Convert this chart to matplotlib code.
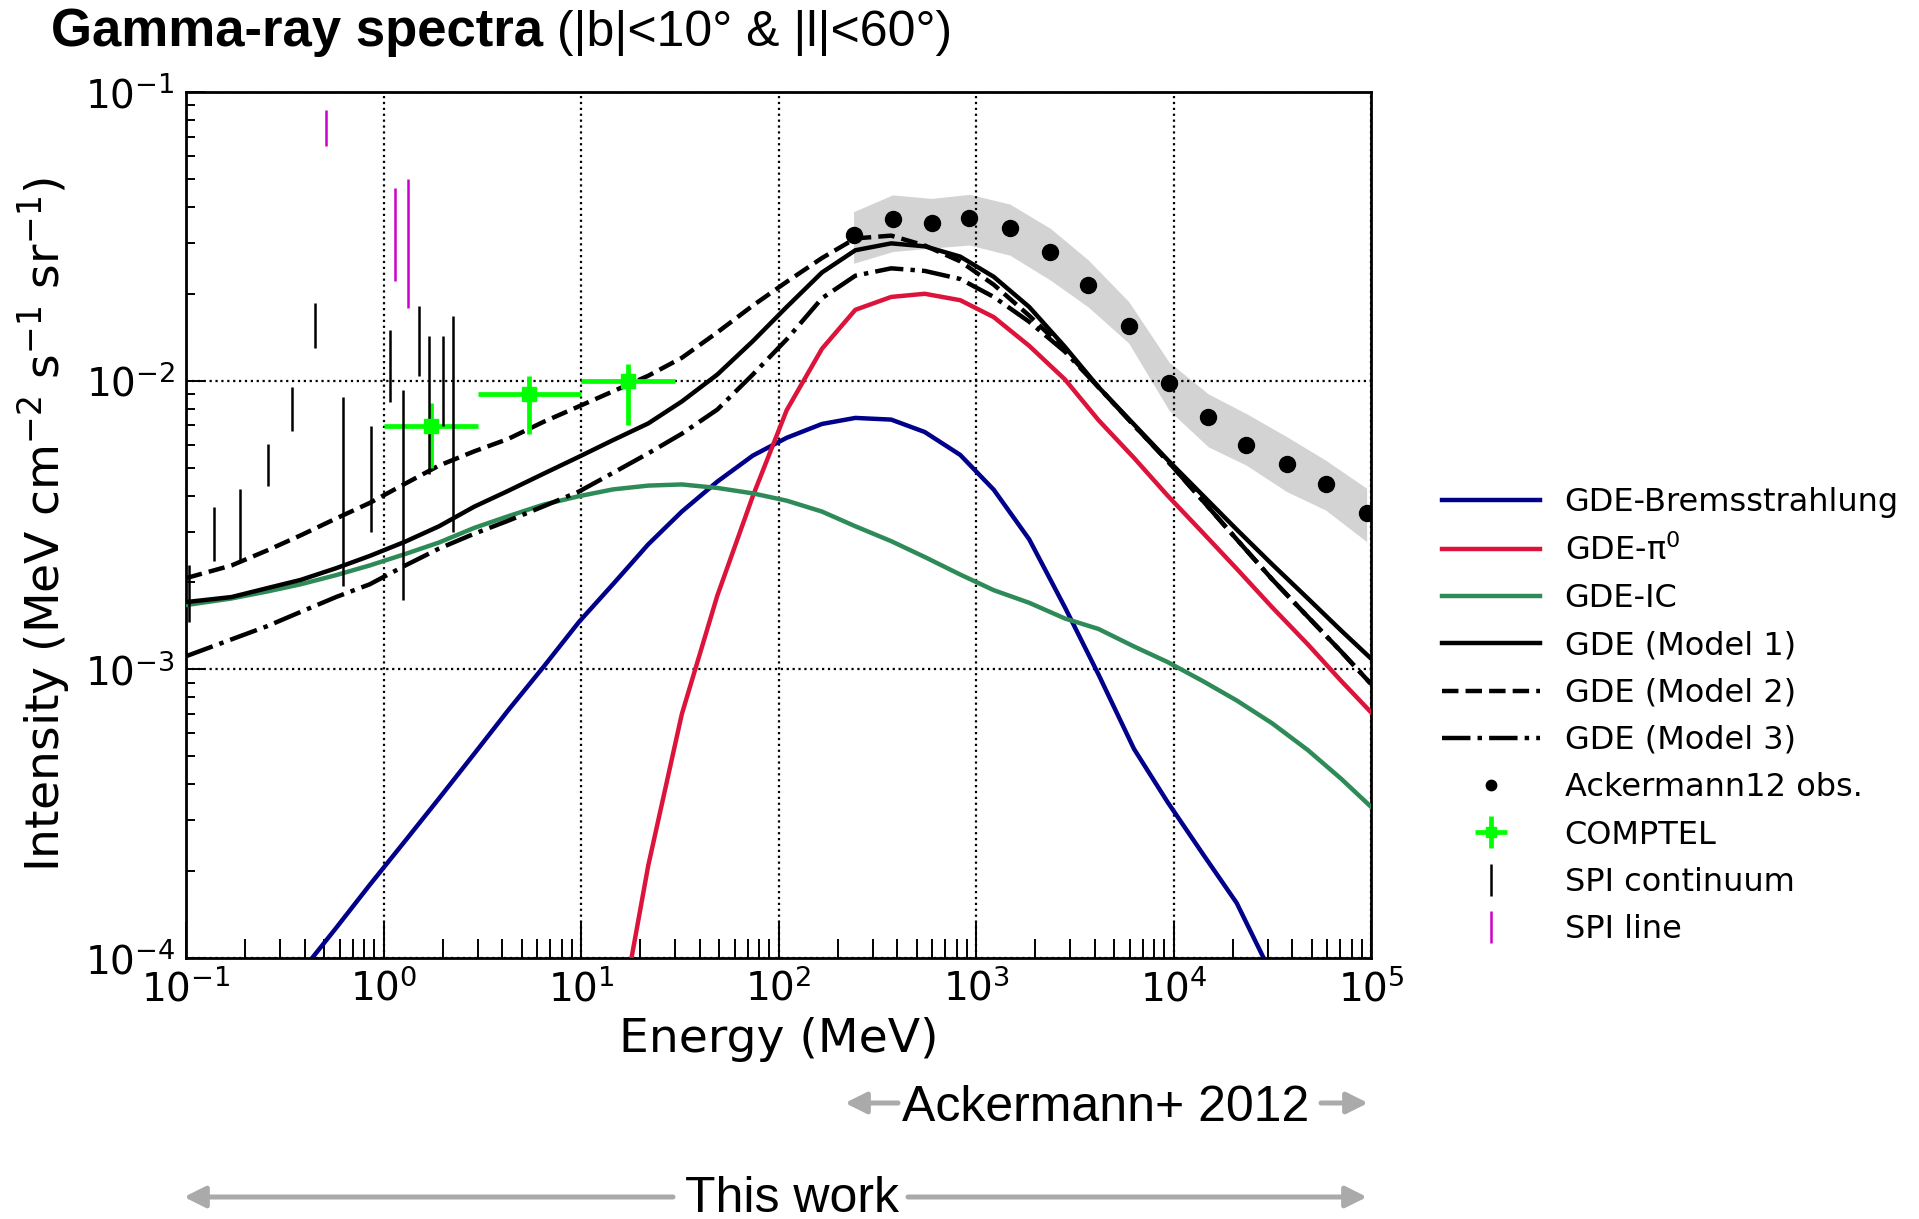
import numpy as np
import matplotlib
matplotlib.use('Agg')
import matplotlib.pyplot as plt
from matplotlib.ticker import LogLocator, NullFormatter

# ---------------- data ----------------
energy = [0.1, 0.17, 0.257, 0.38, 0.575, 0.851, 1.29, 1.91, 2.88, 4.27, 6.46, 9.77,
          14.5, 21.9, 32.4, 49.0, 74.1, 110, 166, 245, 372, 550, 832, 1230, 1860,
          2820, 4170, 6310, 9330, 14100, 20900, 31600, 47900, 70800, 100000]

gde_brems = [2.8e-5, 4.4e-5, 6.4e-5, 8.9e-5, 1.27e-4, 1.79e-4, 2.55e-4, 3.57e-4, 5.1e-4,
             7.2e-4, 1.02e-3, 1.46e-3, 1.97e-3, 2.71e-3, 3.52e-3, 4.47e-3, 5.5e-3, 6.34e-3,
             7.08e-3, 7.43e-3, 7.33e-3, 6.64e-3, 5.53e-3, 4.19e-3, 2.82e-3, 1.64e-3, 9.6e-4,
             5.3e-4, 3.47e-4, 2.29e-4, 1.55e-4, 8.7e-5, 5.2e-5, 3.2e-5, 2.1e-5]

gde_pi0 = [np.nan, np.nan, np.nan, np.nan, np.nan, np.nan, np.nan, np.nan, np.nan, np.nan,
           np.nan, np.nan, 4.4e-5, 2.09e-4, 7.0e-4, 1.8e-3, 3.98e-3, 7.9e-3, 1.29e-2, 1.76e-2,
           1.95e-2, 2.0e-2, 1.9e-2, 1.66e-2, 1.32e-2, 1.01e-2, 7.3e-3, 5.4e-3, 4.0e-3, 2.97e-3,
           2.23e-3, 1.64e-3, 1.22e-3, 9.1e-4, 7.1e-4]

gde_ic = [1.67e-3, 1.76e-3, 1.86e-3, 1.97e-3, 2.12e-3, 2.29e-3, 2.51e-3, 2.75e-3, 3.09e-3,
          3.39e-3, 3.72e-3, 3.98e-3, 4.2e-3, 4.33e-3, 4.37e-3, 4.25e-3, 4.07e-3, 3.84e-3,
          3.52e-3, 3.13e-3, 2.78e-3, 2.45e-3, 2.13e-3, 1.88e-3, 1.7e-3, 1.5e-3, 1.38e-3,
          1.2e-3, 1.06e-3, 9.1e-4, 7.8e-4, 6.5e-4, 5.25e-4, 4.17e-4, 3.34e-4]

gde_model1 = [1.71e-3, 1.78e-3, 1.91e-3, 2.04e-3, 2.24e-3, 2.47e-3, 2.77e-3, 3.13e-3, 3.66e-3,
              4.15e-3, 4.76e-3, 5.45e-3, 6.22e-3, 7.11e-3, 8.47e-3, 1.05e-2, 1.37e-2, 1.8e-2,
              2.37e-2, 2.83e-2, 2.99e-2, 2.92e-2, 2.69e-2, 2.29e-2, 1.8e-2, 1.31e-2, 9.5e-3,
              7.05e-3, 5.32e-3, 4.0e-3, 3.05e-3, 2.31e-3, 1.76e-3, 1.36e-3, 1.09e-3]

gde_model2 = [2.07e-3, 2.29e-3, 2.58e-3, 2.91e-3, 3.33e-3, 3.77e-3, 4.4e-3, 5.08e-3, 5.69e-3,
              6.28e-3, 7.2e-3, 8.15e-3, 9.18e-3, 1.04e-2, 1.2e-2, 1.47e-2, 1.82e-2, 2.2e-2,
              2.66e-2, 3.11e-2, 3.18e-2, 2.94e-2, 2.59e-2, 2.15e-2, 1.68e-2, 1.28e-2, 9.5e-3,
              7.0e-3, 5.27e-3, 3.83e-3, 2.82e-3, 2.05e-3, 1.52e-3, 1.15e-3, 8.9e-4]

gde_model3 = [1.11e-3, 1.27e-3, 1.41e-3, 1.58e-3, 1.78e-3, 1.97e-3, 2.29e-3, 2.62e-3, 2.95e-3,
              3.27e-3, 3.67e-3, 4.13e-3, 4.79e-3, 5.6e-3, 6.55e-3, 7.94e-3, 1.05e-2, 1.39e-2,
              1.93e-2, 2.31e-2, 2.45e-2, 2.4e-2, 2.25e-2, 1.95e-2, 1.6e-2, 1.26e-2, 9.5e-3,
              7.0e-3, 5.27e-3, 3.83e-3, 2.82e-3, 2.05e-3, 1.52e-3, 1.15e-3, 8.9e-4]

ack_energy = [240, 378, 596, 927, 1485, 2380, 3700, 5930, 9490, 15000, 23300, 37400, 59000, 95000]
ack_flux = [3.19e-2, 3.62e-2, 3.52e-2, 3.66e-2, 3.39e-2, 2.79e-2, 2.14e-2, 1.55e-2, 9.8e-3,
            7.5e-3, 6.0e-3, 5.15e-3, 4.4e-3, 3.48e-3]
ack_upper = [3.85e-2, 4.4e-2, 4.28e-2, 4.42e-2, 4.09e-2, 3.37e-2, 2.62e-2, 1.88e-2, 1.16e-2,
             9.0e-3, 7.7e-3, 6.4e-3, 5.3e-3, 4.24e-3]
ack_lower = [2.55e-2, 2.8e-2, 2.88e-2, 2.95e-2, 2.72e-2, 2.23e-2, 1.8e-2, 1.35e-2, 7.9e-3,
             5.9e-3, 5.1e-3, 4.13e-3, 3.56e-3, 2.77e-3]

comptel_energy = [1.73, 5.48, 17.3]
comptel_e_lo = [1.0, 3.0, 10.0]
comptel_e_hi = [3.0, 10.0, 30.0]
comptel_flux = [6.98e-3, 8.98e-3, 9.94e-3]
comptel_f_lo = [5.0e-3, 6.55e-3, 7.02e-3]
comptel_f_hi = [8.4e-3, 1.04e-2, 1.14e-2]

spi_cont_energy = [0.103, 0.139, 0.188, 0.259, 0.346, 0.448, 0.621, 0.863, 1.08, 1.25, 1.51,
                   1.69, 2.01, 2.26]
spi_cont_lo = [1.46e-3, 2.37e-3, 2.39e-3, 4.32e-3, 6.67e-3, 1.3e-2, 1.95e-3, 3.0e-3, 8.45e-3,
               1.74e-3, 1.04e-2, 4.74e-3, 6.97e-3, 3.0e-3]
spi_cont_hi = [2.29e-3, 3.65e-3, 4.21e-3, 6.04e-3, 9.5e-3, 1.86e-2, 8.8e-3, 6.97e-3, 1.5e-2,
               9.26e-3, 1.82e-2, 1.43e-2, 1.43e-2, 1.68e-2]

spi_line_energy = [0.512, 1.148, 1.336]
spi_line_lo = [6.49e-2, 2.21e-2, 1.78e-2]
spi_line_hi = [8.63e-2, 4.64e-2, 4.98e-2]

# ---------------- figure ----------------
W, H, DPI = 1919, 1219, 100
fig = plt.figure(figsize=(W / DPI, H / DPI), dpi=DPI)
ax = fig.add_axes([186 / W, 1 - 958 / H, (1371 - 186) / W, (958 - 92) / H])

LW = 3.2
ax.fill_between(ack_energy, ack_lower, ack_upper, color='lightgray', lw=0, zorder=1)

ax.plot(energy, gde_brems, color='darkblue', lw=LW, label='GDE-Bremsstrahlung', zorder=3)
ax.plot(energy, gde_pi0, color='crimson', lw=LW, label=r'GDE-$\mathregular{\pi^0}$', zorder=3)
ax.plot(energy, gde_ic, color='seagreen', lw=LW, label='GDE-IC', zorder=3)
ax.plot(energy, gde_model1, color='black', lw=LW, ls='-', label='GDE (Model 1)', zorder=4)
ax.plot(energy, gde_model2, color='black', lw=LW, ls='--', label='GDE (Model 2)', zorder=4)
ax.plot(energy, gde_model3, color='black', lw=LW, ls='-.', label='GDE (Model 3)', zorder=4)

ax.plot(ack_energy, ack_flux, 'o', color='black', ms=11.5, label='Ackermann12 obs.', zorder=6)

ce = np.array(comptel_energy)
cf = np.array(comptel_flux)
ax.errorbar(ce, cf,
            xerr=[ce - np.array(comptel_e_lo), np.array(comptel_e_hi) - ce],
            yerr=[cf - np.array(comptel_f_lo), np.array(comptel_f_hi) - cf],
            fmt='s', color='lime', ms=10, elinewidth=3.4, capsize=0, label='COMPTEL', zorder=5)

slo = np.array(spi_cont_lo)
shi = np.array(spi_cont_hi)
smid = np.sqrt(slo * shi)
ax.errorbar(spi_cont_energy, smid, yerr=[smid - slo, shi - smid], fmt='none',
            ecolor='black', elinewidth=1.8, capsize=0, label='SPI continuum', zorder=5)

llo = np.array(spi_line_lo)
lhi = np.array(spi_line_hi)
lmid = np.sqrt(llo * lhi)
ax.errorbar(spi_line_energy, lmid, yerr=[lmid - llo, lhi - lmid], fmt='none',
            ecolor='#cc00cc', elinewidth=1.8, capsize=0, label='SPI line', zorder=5)

ax.set_xscale('log')
ax.set_yscale('log')
ax.set_xlim(0.1, 1e5)
ax.set_ylim(1e-4, 1e-1)

ax.xaxis.set_major_locator(LogLocator(base=10, numticks=20))
ax.xaxis.set_minor_locator(LogLocator(base=10, subs=np.arange(2, 10), numticks=40))
ax.yaxis.set_major_locator(LogLocator(base=10, numticks=20))
ax.yaxis.set_minor_locator(LogLocator(base=10, subs=np.arange(2, 10), numticks=40))
ax.xaxis.set_minor_formatter(NullFormatter())
ax.yaxis.set_minor_formatter(NullFormatter())

ax.tick_params(axis='both', which='both', direction='in', top=False, right=False,
               labelsize=28, width=1.4)
ax.tick_params(axis='x', which='major', length=26, pad=8)
ax.tick_params(axis='x', which='minor', length=13.5)
ax.tick_params(axis='y', which='major', length=14, pad=8)
ax.tick_params(axis='y', which='minor', length=6.5)
for sp in ax.spines.values():
    sp.set_linewidth(2.0)

ax.grid(True, which='major', color='black', ls=':', lw=1.6)

ax.set_xlabel('Energy (MeV)', fontsize=34)
ax.set_ylabel(r'Intensity (MeV cm$^{-2}$ s$^{-1}$ sr$^{-1}$)', fontsize=34)
ax.xaxis.set_label_coords(0.5, -0.068)
ax.yaxis.set_label_coords(-0.096, 0.5)

leg = fig.legend(loc='center left', bbox_to_anchor=(1442 / W, 1 - 716 / H),
                 frameon=False, fontsize=23, handlelength=3.07, handletextpad=0.77,
                 labelspacing=0.51, borderpad=0, borderaxespad=0, markerscale=0.65)

# ---------------- title ----------------
tfont = 'Liberation Sans'
t1 = fig.text(51 / W, 1 - 46 / H, 'Gamma-ray spectra', fontsize=38, fontweight='bold',
              family=tfont, ha='left', va='baseline')
fig.canvas.draw()
bb = t1.get_window_extent()
fig.text(bb.x1 / W, 1 - 46 / H, ' (|b|<10\u00b0 & |l|<60\u00b0)', fontsize=36,
         family=tfont, ha='left', va='baseline')

# ---------------- range annotations ----------------
acol = '#aaaaaa'
aprops = dict(arrowstyle='-|>', color=acol, lw=3.6, mutation_scale=32, shrinkA=0, shrinkB=0)

fig.text(1106 / W, 1 - 1108 / H, 'Ackermann+ 2012', fontsize=36, family=tfont,
         ha='center', va='center')
fig.add_artist(matplotlib.patches.FancyArrowPatch(
    (898 / W, 1 - 1103 / H), (845 / W, 1 - 1103 / H), transform=fig.transFigure, **aprops))
fig.add_artist(matplotlib.patches.FancyArrowPatch(
    (1321 / W, 1 - 1103 / H), (1368 / W, 1 - 1103 / H), transform=fig.transFigure, **aprops))

fig.text(792 / W, 1 - 1198.5 / H, 'This work', fontsize=36, family=tfont,
         ha='center', va='center')
fig.add_artist(matplotlib.patches.FancyArrowPatch(
    (673 / W, 1 - 1197 / H), (184 / W, 1 - 1197 / H), transform=fig.transFigure, **aprops))
fig.add_artist(matplotlib.patches.FancyArrowPatch(
    (908 / W, 1 - 1197 / H), (1367 / W, 1 - 1197 / H), transform=fig.transFigure, **aprops))

fig.savefig('out.png', dpi=DPI)
